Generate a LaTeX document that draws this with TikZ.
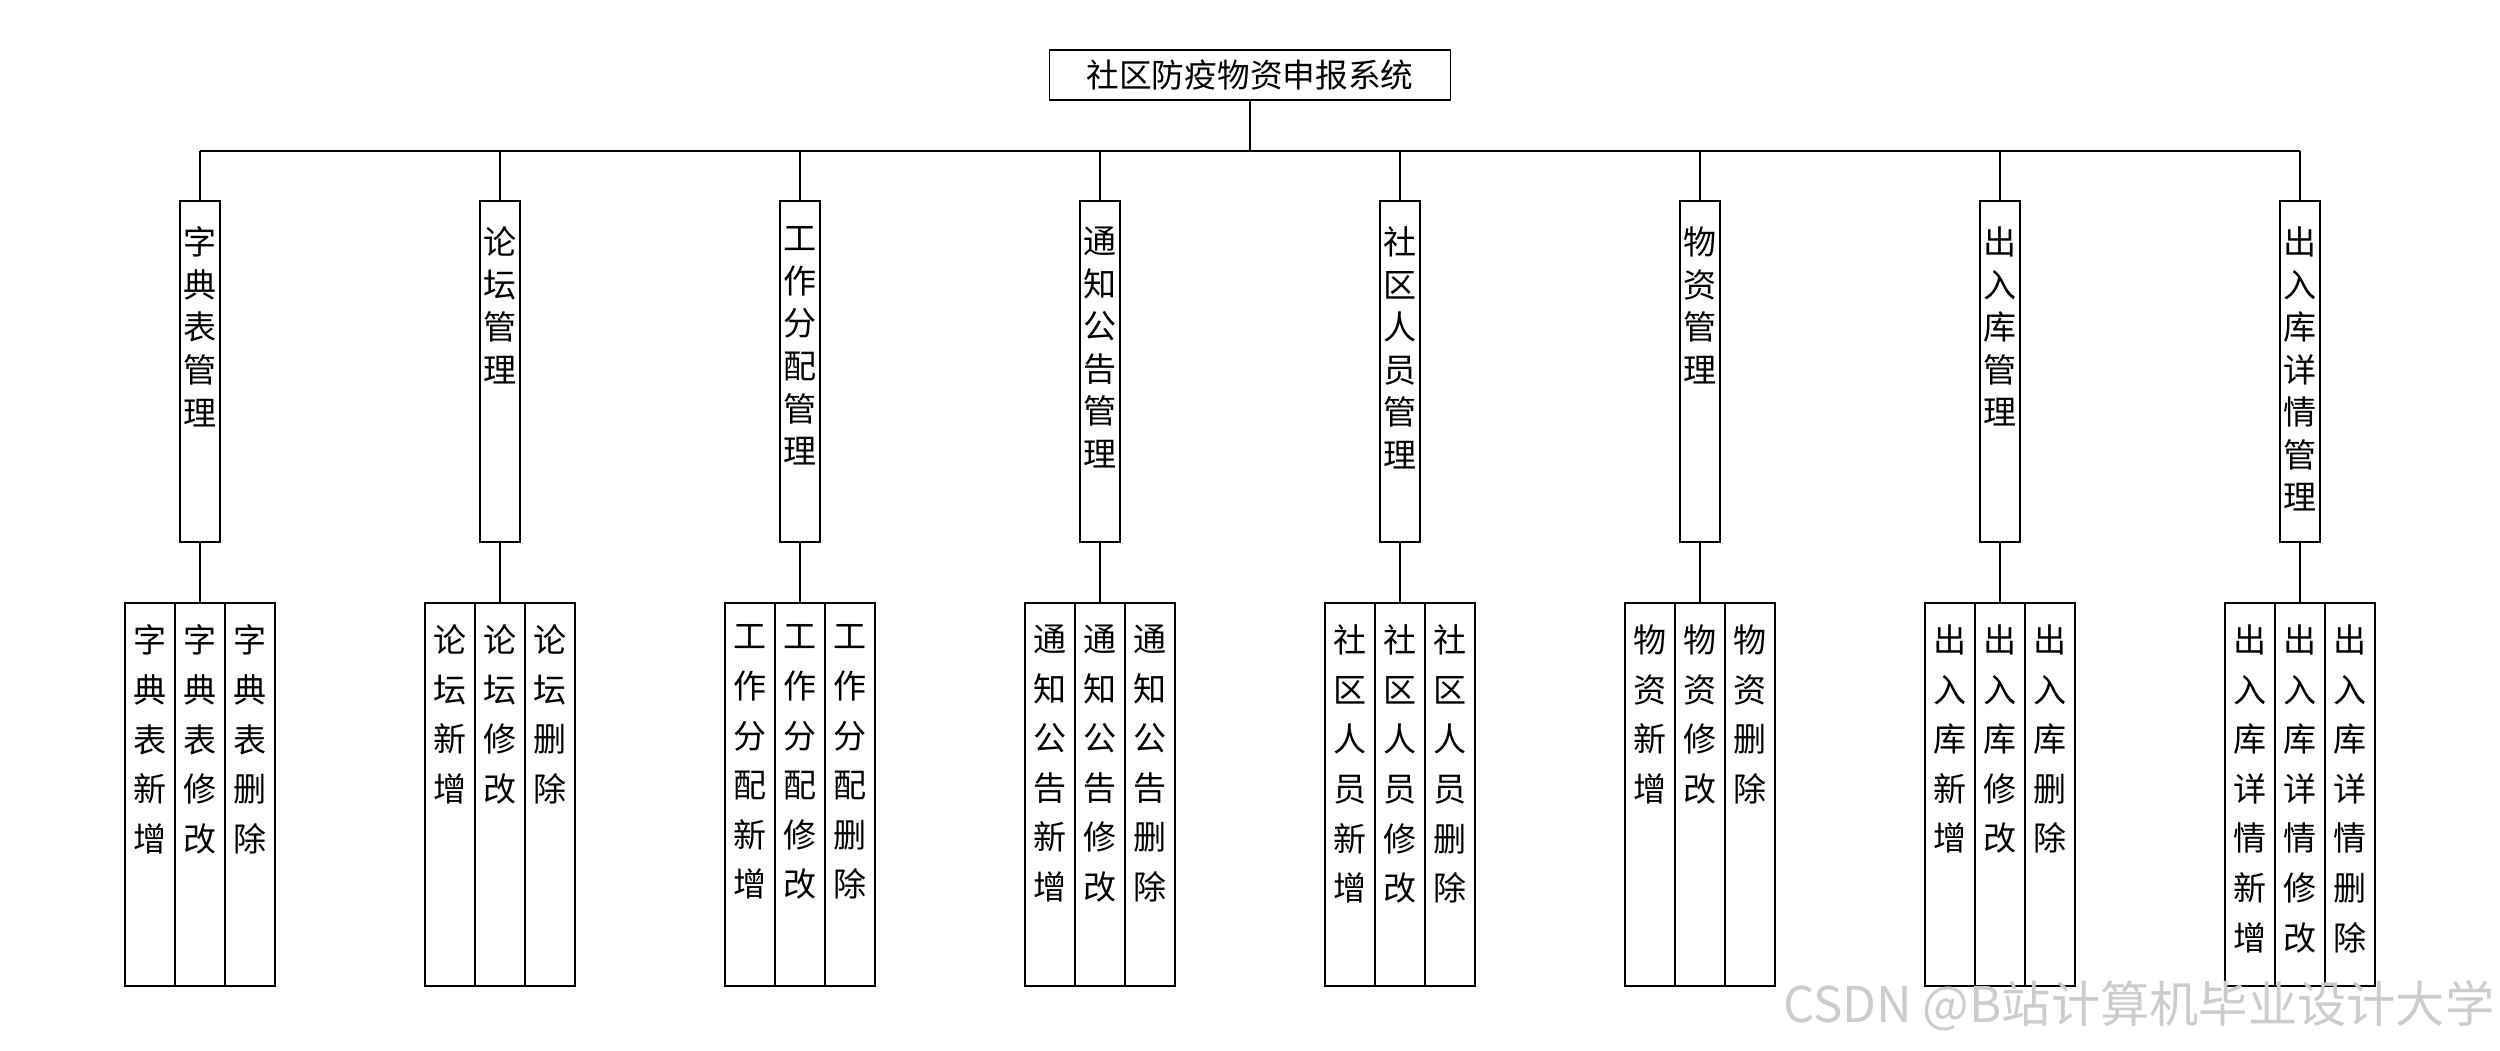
\documentclass[tikz,border=0pt]{standalone}
\usepackage{fontspec}
\newfontfamily\cjk{Noto Sans CJK SC}
\begin{document}
\begin{tikzpicture}[x=0.01cm,y=-0.01cm,line width=0.45pt,
  titlebox/.style={draw,inner sep=0,minimum width=4.01cm,minimum height=0.5cm,font=\cjk\fontsize{9.3}{11}\selectfont},
  modbox/.style={draw,inner sep=0,minimum width=0.4cm,minimum height=3.41cm,anchor=north},
  modtext/.style={inner sep=0,align=center,anchor=north,font=\cjk\fontsize{9.4}{12.1}\selectfont},
  leafbox/.style={draw,inner sep=0,minimum width=0.5cm,minimum height=3.83cm,anchor=north},
  leaftext/.style={inner sep=0,align=center,anchor=north,font=\cjk\fontsize{9.4}{14.1}\selectfont},
  wmark/.style={inner sep=0,anchor=base east,text=black!20,font=\cjk\fontsize{14}{14}\selectfont}]
\fill[white] (0,0) rectangle (2500,1050);
\useasboundingbox (0,0) rectangle (2500,1050);
\node[titlebox] (t) at (1250,75) {社区防疫物资申报系统};
\draw (t.south) -- ++(0,50) coordinate (busc);
\foreach \i/\x/\p in {1/200/{字\\典\\表},2/500/{论\\坛},3/800/{工\\作\\分\\配},4/1100/{通\\知\\公\\告},5/1400/{社\\区\\人\\员},6/1700/{物\\资},7/2000/{出\\入\\库},8/2300/{出\\入\\库\\详\\情}}{
  \node[modbox] (m\i) at (\x,200) {};
  \node[modtext] (mt\i) at ([yshift=-0.26cm]m\i.north) {\p\\管\\理};
  \draw (m\i.north) -- (m\i.north |- busc);
  \node[leafbox] (la\i) at (\x-50,602) {};
  \node[leafbox] (lb\i) at (\x,602) {};
  \node[leafbox] (lc\i) at (\x+50,602) {};
  \node[leaftext] (lta\i) at ([yshift=-0.22cm]la\i.north) {\p\\新\\增};
  \node[leaftext] (ltb\i) at ([yshift=-0.22cm]lb\i.north) {\p\\修\\改};
  \node[leaftext] (ltc\i) at ([yshift=-0.22cm]lc\i.north) {\p\\删\\除};
  \draw (m\i.south) -- (lb\i.north);
}
\draw (m1.north |- busc) -- (m8.north |- busc);
\node[wmark] (wm) at (2495,1022) {CSDN @B站计算机毕业设计大学};
\end{tikzpicture}
\end{document}
